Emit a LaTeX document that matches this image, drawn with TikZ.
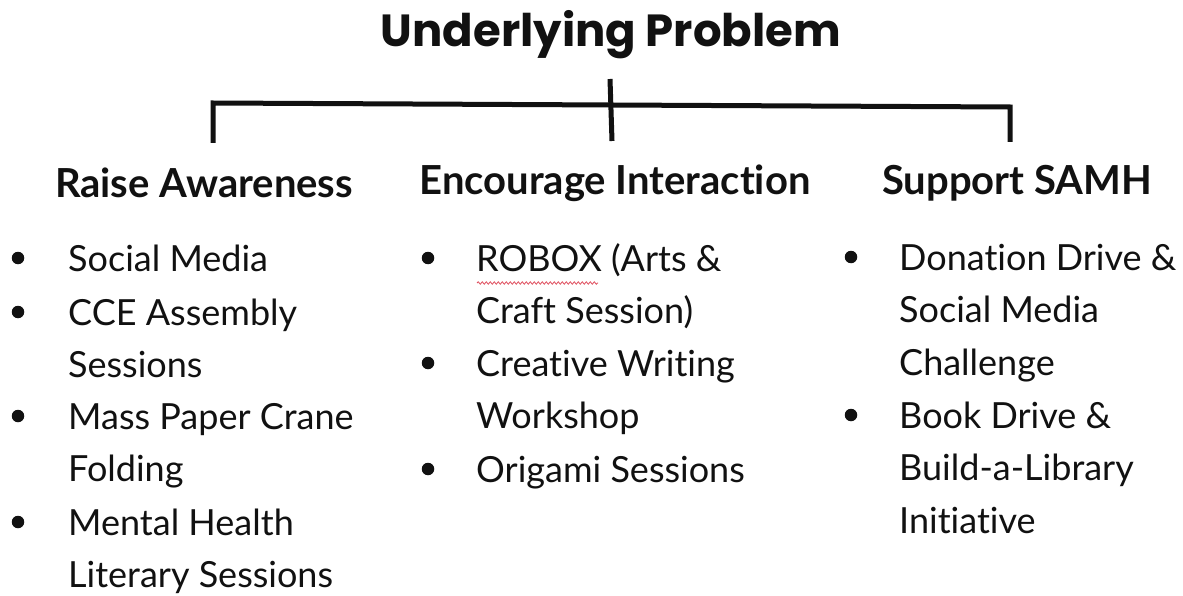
\documentclass[tikz,border=0pt]{standalone}
\usepackage{fontspec}
\setmainfont{Lato}[Ligatures=NoCommon]
\newfontfamily\titlefont{Poppins}
\usetikzlibrary{decorations.pathmorphing}
\definecolor{ink}{HTML}{111111}
\definecolor{squiggle}{HTML}{E05060}
\begin{document}
\begin{tikzpicture}[x=1pt,y=-1pt,
  title/.style={font=\titlefont\bfseries\fontsize{45}{48}\selectfont, text=ink, inner sep=0},
  heading/.style={font=\bfseries\fontsize{40}{44}\selectfont, text=ink, inner sep=0},
  item/.style={font=\fontsize{36}{52.5}\selectfont, text=ink, inner sep=0, anchor=base west, align=left},
  dot/.style={circle, fill=ink, inner sep=0, minimum size=12.5pt},
  bar/.style={line width=5pt, draw=ink}
]
\useasboundingbox (0,0) rectangle (1183,596);
\fill[white] (0,0) rectangle (1183,596);

% title and bracket
\node[title] (top) at (611,35) {Underlying Problem};
\coordinate (stemtop) at (610,79);
\coordinate (stembot) at (612,141);
\coordinate (barL) at (213,103);
\coordinate (barR) at (1010,107);
\coordinate (legL) at (213,143);
\coordinate (legR) at (1010,142);
\draw[bar] (legL) -- (barL) -- (barR) -- (legR);
\draw[bar] (stemtop) -- (stembot);

% column headings
\node[heading] (h1) at (204,183) {Raise Awareness};
\node[heading] (h2) at (615,183) {Encourage Interaction};
\node[heading] (h3) at (1017,183) {Support SAMH};

% left column (base anchor sits on the last line of each item)
\node[dot] (a1d) at (18,258) {};
\node[item] (a1) at (68,271) {Social Media};
\node[dot] (a2d) at (18,312) {};
\node[item] (a2) at (68,377.5) {CCE Assembly\\Sessions};
\node[dot] (a3d) at (18,416) {};
\node[item] (a3) at (68,481.5) {Mass Paper Crane\\Folding};
\node[dot] (a4d) at (18,522) {};
\node[item] (a4) at (68,587.5) {Mental Health\\Literary Sessions};

% middle column
\node[dot] (b1d) at (428,258) {};
\node[item] (b1) at (476,323.5) {ROBOX (Arts \&\\Craft Session)};
\node[dot] (b2d) at (428,363) {};
\node[item] (b2) at (476,428.5) {Creative Writing\\Workshop};
\node[dot] (b3d) at (428,469) {};
\node[item] (b3) at (476,482) {Origami Sessions};
\coordinate (sqA) at (477,283);
\coordinate (sqB) at (598,283);
\draw[squiggle, line width=0.8pt, decorate,
  decoration={snake, amplitude=1.2pt, segment length=4pt}] (sqA) -- (sqB);

% right column
\node[dot] (c1d) at (851,257) {};
\node[item] (c1) at (899,375) {Donation Drive \&\\Social Media\\Challenge};
\node[dot] (c2d) at (851,415) {};
\node[item] (c2) at (899,533) {Book Drive \&\\Build-a-Library\\Initiative};
\end{tikzpicture}
\end{document}
